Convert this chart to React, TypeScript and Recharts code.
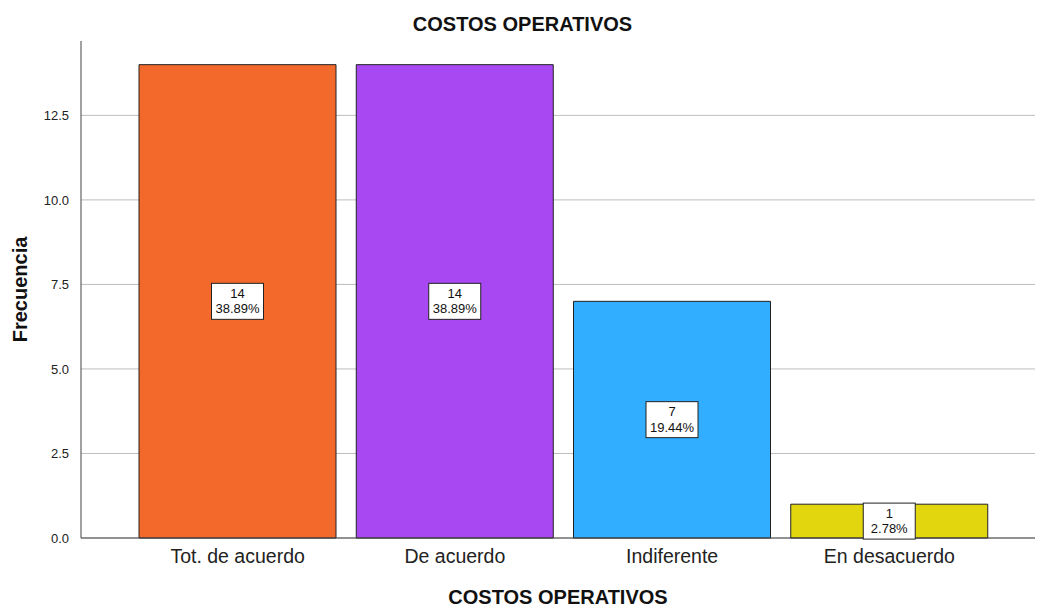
import React from "react";
import {
  BarChart,
  Bar,
  XAxis,
  YAxis,
  CartesianGrid,
  Cell,
  LabelList,
  Label,
} from "recharts";

const categories = ["Tot. de acuerdo", "De acuerdo", "Indiferente", "En desacuerdo"];
const counts = [14, 14, 7, 1];
const percents = ["38.89%", "38.89%", "19.44%", "2.78%"];
const colors = ["#F2692B", "#A848F2", "#31AEFF", "#E2D60F"];
const yTicks = [0, 2.5, 5, 7.5, 10, 12.5];

const data = categories.map((name, i) => ({
  name,
  count: counts[i],
  pct: percents[i],
}));

const FONT = "'Liberation Sans', Arial, sans-serif";

function BoxLabel(props: any) {
  const { x, y, width, height, index } = props;
  const cx = x + width / 2;
  const cy = y + height / 2;
  const bw = 52;
  const bh = 36;
  return (
    <g>
      <rect
        x={cx - bw / 2}
        y={cy - bh / 2}
        width={bw}
        height={bh}
        fill="#fff"
        stroke="#222"
        strokeWidth={1}
      />
      <text x={cx} y={cy - 3.5} textAnchor="middle" fontSize={13} fill="#111" fontFamily={FONT}>
        {counts[index]}
      </text>
      <text x={cx} y={cy + 12} textAnchor="middle" fontSize={13} fill="#111" fontFamily={FONT}>
        {percents[index]}
      </text>
    </g>
  );
}

export default function App() {
  return (
    <div style={{ position: "absolute", left: 0, top: 0, width: 1037, height: 607, fontFamily: FONT }}>
      <div
        style={{
          position: "absolute",
          top: 13,
          left: 0,
          width: 1045,
          textAlign: "center",
          fontWeight: "bold",
          fontSize: 20,
          lineHeight: "23px",
          color: "#111",
        }}
      >
        COSTOS OPERATIVOS
      </div>
      <BarChart
        width={1037}
        height={607}
        data={data}
        margin={{ top: 41, right: 2, left: 0, bottom: 4 }}
        barCategoryGap={10}
      >
        <CartesianGrid vertical={false} horizontalValues={yTicks} stroke="#bdbdbd" />
        <XAxis
          dataKey="name"
          height={65}
          padding={{ left: 48, right: 37 }}
          tickLine={false}
          axisLine={{ stroke: "#444" }}
          tick={{ fontSize: 19.5, fill: "#222", fontFamily: FONT }}
          tickMargin={5}
        >
          <Label
            value="COSTOS OPERATIVOS"
            position="insideBottom"
            offset={-1}
            style={{ fontWeight: "bold", fontSize: 20, fill: "#111", fontFamily: FONT }}
          />
        </XAxis>
        <YAxis
          width={81}
          domain={[0, 14.7]}
          ticks={yTicks}
          tickFormatter={(v: number) => v.toFixed(1)}
          tickLine={false}
          axisLine={{ stroke: "#444" }}
          tick={{ fontSize: 13, fill: "#222", fontFamily: FONT }}
          tickMargin={6}
          interval={0}
        >
          <Label
            value="Frecuencia"
            angle={-90}
            position="insideLeft"
            offset={20}
            style={{ fontWeight: "bold", fontSize: 20, fill: "#111", fontFamily: FONT, textAnchor: "middle" }}
          />
        </YAxis>
        <Bar dataKey="count" stroke="#222" strokeWidth={1} isAnimationActive={false}>
          {data.map((d, i) => (
            <Cell key={d.name} fill={colors[i]} />
          ))}
          <LabelList dataKey="count" content={<BoxLabel />} />
        </Bar>
      </BarChart>
    </div>
  );
}
